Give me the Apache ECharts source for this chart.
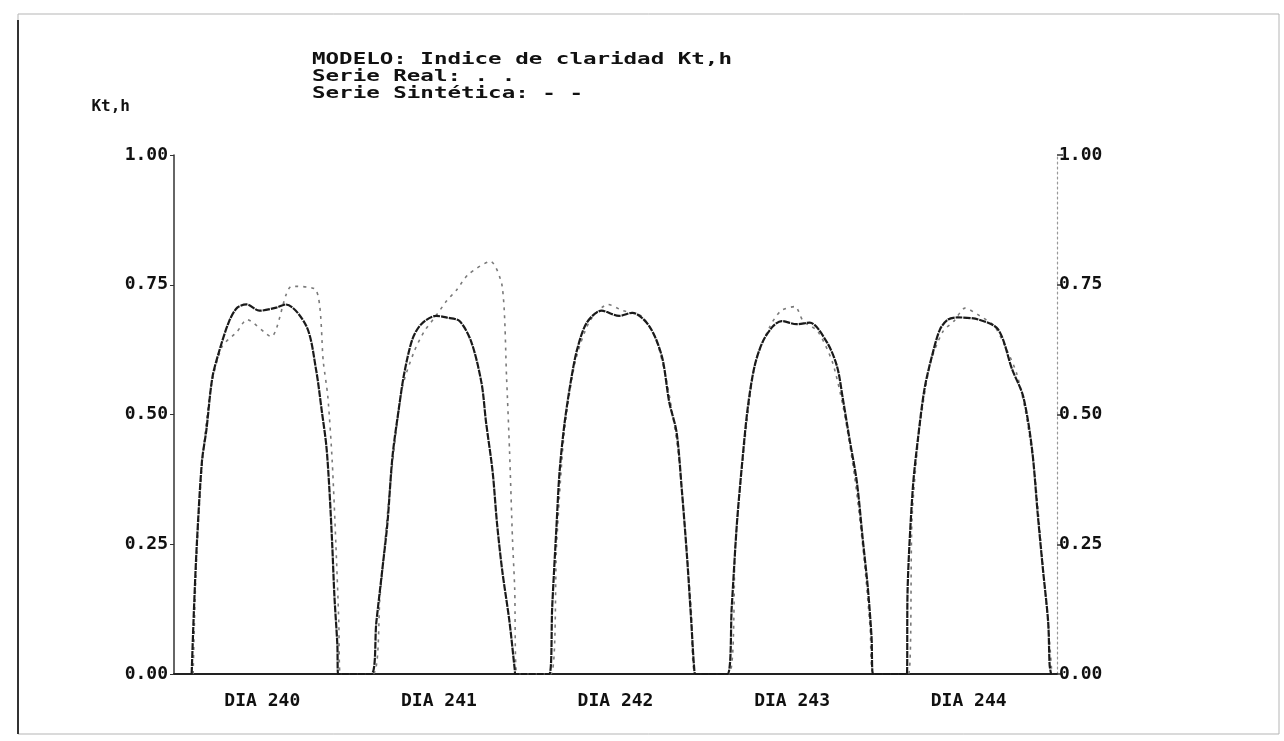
<!DOCTYPE html>
<html>
<head>
<meta charset="utf-8">
<title>Indice de claridad Kt,h</title>
<script src="https://cdn.jsdelivr.net/npm/echarts@6/dist/echarts.min.js"></script>
<style>
  html, body { margin: 0; padding: 0; background: #fff; }
  #chart { width: 1284px; height: 741px; }
</style>
</head>
<body>
<div id="chart"></div>
<script>
// hora continua (0-120 = dias 240..244) y Kt,h
var days = ['DIA 240', 'DIA 241', 'DIA 242', 'DIA 243', 'DIA 244']
var yTicks = [0, 0.25, 0.5, 0.75, 1]

var realX = [
  2.4, 2.7, 3.1, 3.8, 4.4, 5.2, 6.1, 7.5, 8.6, 9.9, 11.6, 13.9, 15.2, 18.0, 19.3, 20.1, 20.7, 21.1, 21.5, 21.8, 22.2, 22.3,
  26.8, 27.5, 28.3, 29.0, 29.7, 30.6, 31.3, 32.4, 33.6, 35.6, 37.0, 38.8, 40.4, 41.8, 42.4, 43.3, 43.9, 44.6, 45.6, 46.3, 46.4,
  51.0, 51.4, 52.0, 52.4, 53.1, 54.0, 54.8, 56.1, 58.1, 60.5, 62.3, 64.6, 66.3, 67.3, 68.3, 69.0, 69.7, 70.3, 70.7, 70.9,
  75.2, 75.8, 76.5, 77.3, 78.0, 78.9, 80.0, 81.4, 82.6, 84.6, 86.4, 88.7, 90.1, 90.9, 91.8, 92.8, 93.6, 94.3, 94.8, 95.0,
  99.6, 99.7, 100.4, 101.1, 102.0, 103.0, 104.1, 105.2, 106.5, 109.3, 112.0, 113.9, 115.4, 116.6, 117.4, 118.1, 118.8, 119.0, 119.2
]
var realKt = [
  0, 0.12, 0.25, 0.41, 0.47, 0.57, 0.62, 0.68, 0.706, 0.712, 0.70, 0.706, 0.712, 0.67, 0.587, 0.505, 0.44, 0.36, 0.25, 0.15, 0.056, 0,
  0, 0.10, 0.20, 0.29, 0.42, 0.516, 0.58, 0.645, 0.674, 0.69, 0.687, 0.68, 0.64, 0.56, 0.486, 0.39, 0.29, 0.20, 0.10, 0.01, 0,
  0, 0.13, 0.29, 0.39, 0.486, 0.57, 0.626, 0.677, 0.70, 0.69, 0.696, 0.67, 0.612, 0.524, 0.466, 0.357, 0.23, 0.10, 0.01, 0,
  0, 0.13, 0.29, 0.42, 0.516, 0.593, 0.64, 0.67, 0.68, 0.674, 0.677, 0.64, 0.593, 0.53, 0.453, 0.37, 0.26, 0.165, 0.07, 0,
  0, 0.165, 0.357, 0.453, 0.55, 0.612, 0.664, 0.683, 0.687, 0.683, 0.664, 0.587, 0.535, 0.434, 0.305, 0.20, 0.10, 0.017, 0
]

var synX = [
  2.6, 3.0, 3.8, 5.0, 6.5, 8.6, 9.9, 13.2, 16.0, 19.3, 20.3, 20.9, 21.5, 22.0, 22.4, 22.6,
  27.0, 28.0, 29.5, 31.0, 32.6, 34.0, 35.6, 37.0, 38.4, 40.0, 43.0, 44.6, 45.2, 45.6, 46.0, 46.3, 46.6,
  51.2, 52.0, 53.0, 54.5, 56.5, 59.0, 61.0, 63.5, 65.5, 67.0, 68.5, 69.5, 70.3, 70.9,
  75.4, 76.3, 77.5, 79.0, 81.0, 82.5, 84.4, 85.5, 87.5, 89.5, 91.0, 92.5, 93.8, 94.6, 95.1,
  99.8, 100.3, 101.3, 102.8, 104.5, 106.0, 107.5, 109.5, 111.5, 113.0, 114.5, 115.8, 117.0, 118.0, 118.9, 119.3
]
var synKt = [
  0, 0.20, 0.40, 0.55, 0.63, 0.66, 0.683, 0.65, 0.747, 0.74, 0.60, 0.535, 0.41, 0.25, 0.10, 0,
  0, 0.15, 0.38, 0.55, 0.62, 0.66, 0.69, 0.718, 0.74, 0.77, 0.795, 0.747, 0.57, 0.43, 0.26, 0.165, 0,
  0, 0.25, 0.46, 0.60, 0.68, 0.712, 0.70, 0.69, 0.645, 0.56, 0.43, 0.27, 0.12, 0,
  0, 0.25, 0.44, 0.60, 0.67, 0.70, 0.708, 0.68, 0.66, 0.60, 0.51, 0.38, 0.22, 0.09, 0,
  0, 0.30, 0.47, 0.60, 0.66, 0.68, 0.705, 0.69, 0.67, 0.63, 0.58, 0.50, 0.38, 0.22, 0.08, 0
]

var font = 'DejaVu Sans Mono'
var realData = realX.map(function (x, i) { return [x, realKt[i]] })
var synData = synX.map(function (x, i) { return [x, synKt[i]] })

function txt(str, x, y) {
  return {
    type: 'text', x: x, y: y, scaleX: 1.5,
    style: { text: str, fill: '#111', font: 'bold 15px ' + font, textVerticalAlign: 'middle' }
  }
}

const chart = echarts.init(document.getElementById('chart'))
const option = {
  backgroundColor: '#fff',
  animation: false,
  grid: { left: 174, right: 227, top: 155, bottom: 67 },
  graphic: [
    { type: 'rect', shape: { x: 18, y: 14, width: 1261, height: 720 }, style: { fill: 'none', stroke: '#b5b5b5', lineWidth: 1 } },
    { type: 'line', shape: { x1: 18, y1: 20, x2: 18, y2: 734 }, style: { stroke: '#333', lineWidth: 2 } },
    txt('MODELO: Indice de claridad Kt,h', 312, 60),
    txt('Serie Real: . .', 312, 77),
    txt('Serie Sintética: - -', 312, 94)
  ],
  xAxis: [
    {
      type: 'value', min: 0, max: 120, interval: 24,
      axisLine: { lineStyle: { color: '#222', width: 2 } },
      axisTick: { show: false }, axisLabel: { show: false }, splitLine: { show: false }
    },
    {
      type: 'category', data: days, position: 'bottom', boundaryGap: true,
      axisLine: { show: false }, axisTick: { show: false },
      axisLabel: { margin: 18, color: '#111', fontFamily: font, fontWeight: 'bold', fontSize: 18 }
    }
  ],
  yAxis: [
    {
      type: 'value', min: 0, max: 1, interval: 0.25, position: 'left',
      name: 'Kt,h', nameLocation: 'end', nameGap: 40,
      nameTextStyle: { align: 'right', padding: [0, 44, 0, 0], color: '#111', fontFamily: font, fontWeight: 'bold', fontSize: 16 },
      axisLine: { show: true, lineStyle: { color: '#333', width: 1.5 } },
      axisTick: { show: true, length: 4, lineStyle: { color: '#333' } },
      axisLabel: { margin: 6, color: '#111', fontFamily: font, fontWeight: 'bold', fontSize: 18, formatter: function (v) { return v.toFixed(2) } },
      splitLine: { show: false }
    },
    {
      type: 'value', min: 0, max: 1, interval: 0.25, position: 'right',
      axisLine: { show: true, lineStyle: { color: '#999', width: 1.2, type: [2, 3] } },
      axisTick: { show: true, length: 6, lineStyle: { color: '#333', width: 1.5 } },
      axisLabel: { margin: 2, color: '#111', fontFamily: font, fontWeight: 'bold', fontSize: 18, formatter: function (v) { return v.toFixed(2) } },
      splitLine: { show: false }
    }
  ],
  series: [
    {
      name: 'Serie Sintética', type: 'line', data: synData, showSymbol: false, smooth: 0.25,
      lineStyle: { color: '#7a7a7a', width: 1.6, type: [3, 5] }, z: 2
    },
    {
      name: 'Serie Real', type: 'line', data: realData, showSymbol: false, smooth: 0.3,
      lineStyle: { color: '#1a1a1a', width: 2.2, type: [7, 1] }, z: 3
    }
  ]
}
chart.setOption(option)
</script>
</body>
</html>
